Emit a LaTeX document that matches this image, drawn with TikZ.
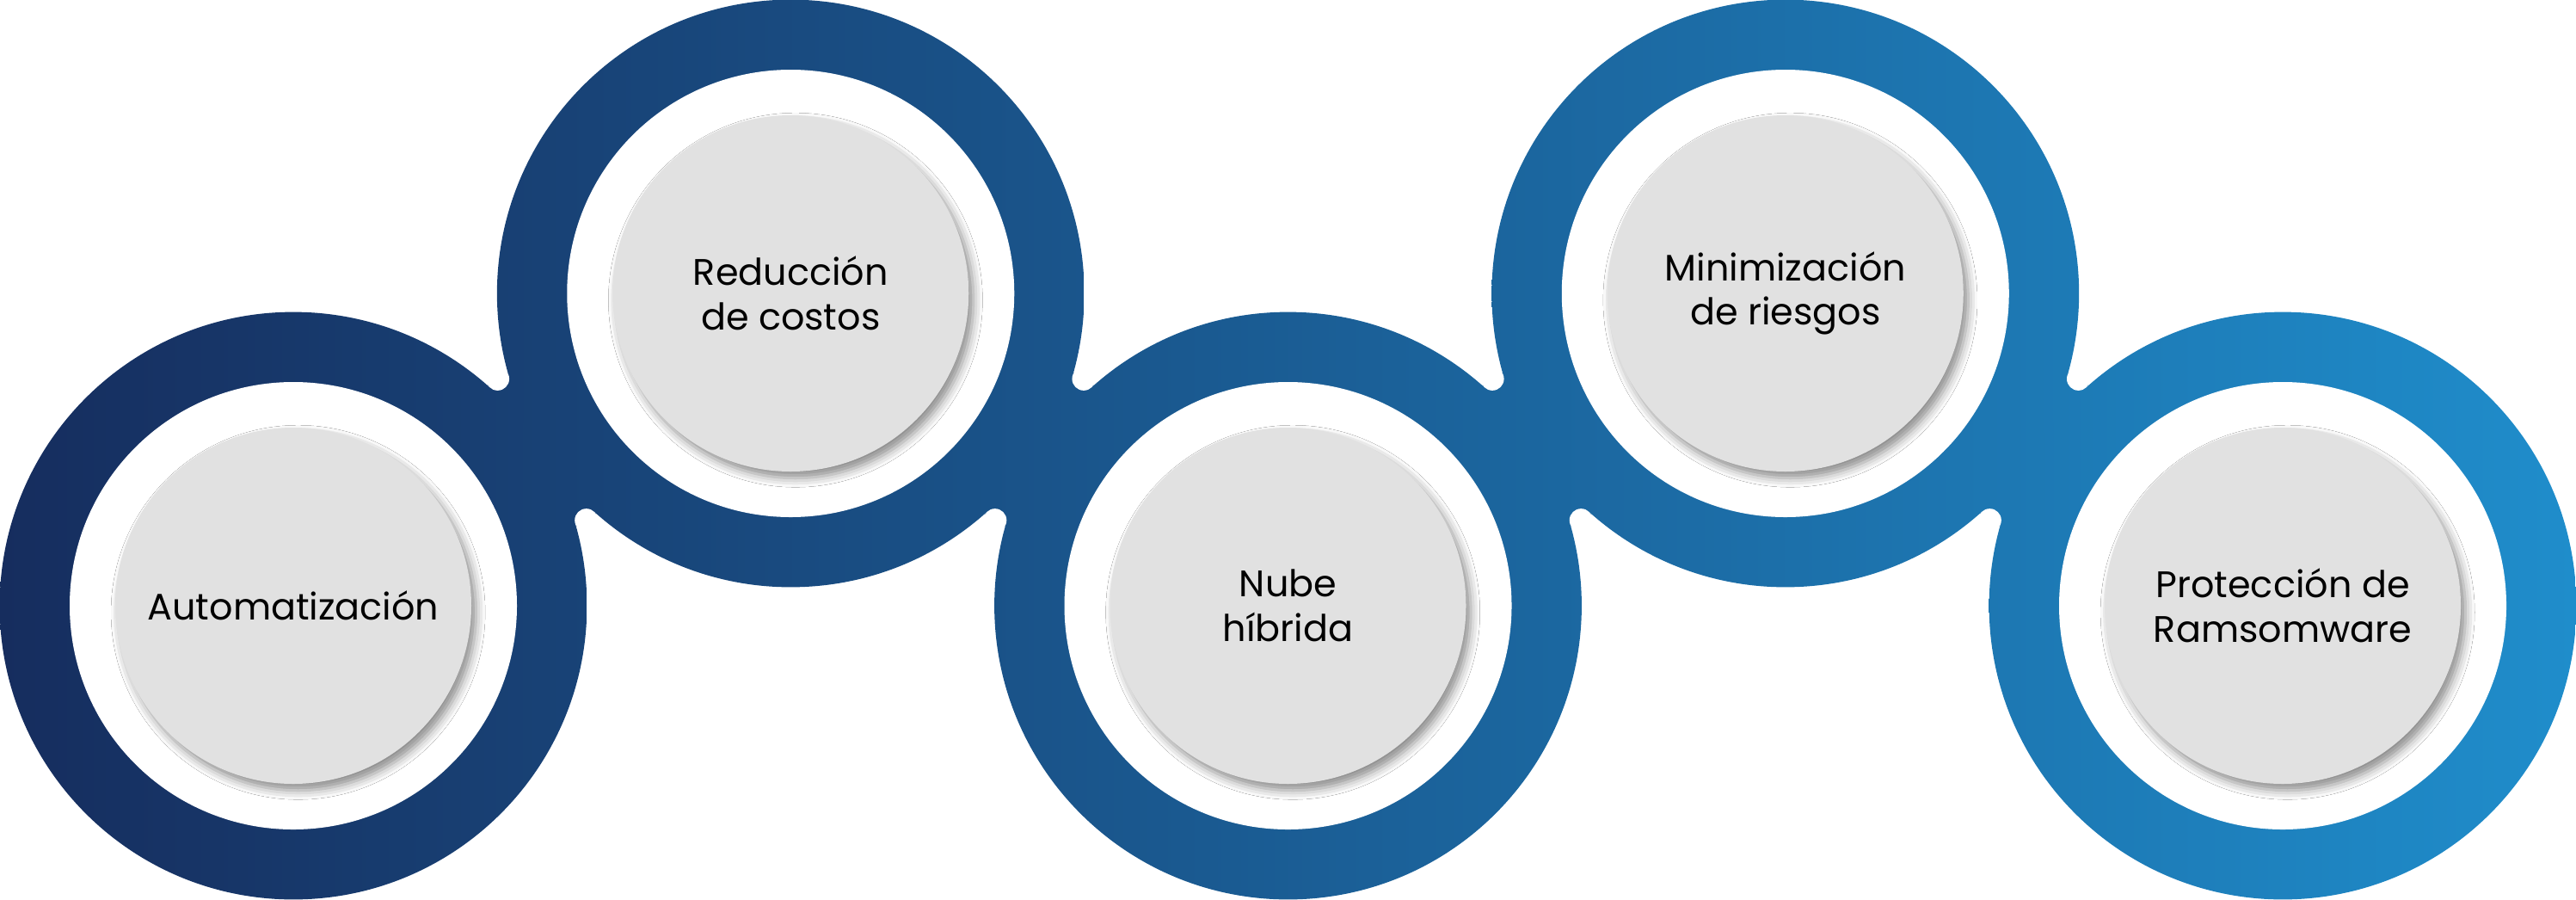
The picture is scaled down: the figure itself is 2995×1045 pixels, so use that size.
\documentclass[tikz,border=0pt]{standalone}
\usepackage{fontspec}
\setmainfont{Poppins}
\usetikzlibrary{shadows.blur}
\definecolor{cL}{HTML}{162D5E}
\definecolor{cR}{HTML}{1F8DCB}
\definecolor{grayc}{HTML}{E1E1E1}
\begin{document}
\begin{tikzpicture}[x=0.01cm,y=-0.01cm,
  ringfill/.style={path picture={\shade[left color=cL,right color=cR] (0,0) rectangle (2995,1045);}},
  inner/.style={fill=white},
  disk/.style={fill=grayc,blur shadow={shadow xshift=1.6pt,shadow yshift=-2.2pt,shadow blur radius=3pt,shadow opacity=45}},
  lbl/.style={font=\fontsize{12.2}{14.7}\selectfont,text=black,align=center,inner sep=0pt}]
\useasboundingbox (0,0) rectangle (2995,1045);
\def\R{341.4}
\coordinate (C1) at (341,704);
\coordinate (C2) at (919.25,341);
\coordinate (C3) at (1497.5,704);
\coordinate (C4) at (2075.75,341);
\coordinate (C5) at (2654,704);
% necks
\path[ringfill] (693.13,597.47) -- (670.27,611.83) -- (567.13,447.53) -- (589.99,433.17) -- cycle;
\path[ringfill] (1168.24,611.83) -- (1145.38,597.47) -- (1248.52,433.17) -- (1271.38,447.53) -- cycle;
\path[ringfill] (1849.63,597.47) -- (1826.77,611.83) -- (1723.63,447.53) -- (1746.49,433.17) -- cycle;
\path[ringfill] (2324.74,611.83) -- (2301.88,597.47) -- (2405.02,433.17) -- (2427.88,447.53) -- cycle;
% outer rings
\foreach \c in {C1,C2,C3,C4,C5} \path[ringfill] (\c) circle (\R);
% notch tips
\foreach \p in {(681.70,604.65),(578.56,440.35),(1156.81,604.65),(1259.95,440.35),(1838.20,604.65),(1735.06,440.35),(2313.31,604.65),(2416.45,440.35)}
  \fill[white] \p circle (13.5);
% inner white
\foreach \c in {C1,C2,C3,C4,C5} \path[inner] (\c) circle (260);
% gray disks
\foreach \c in {C1,C2,C3,C4,C5} \path[disk] (\c) circle (207);
% labels
\node[lbl] (t1) at (C1) {Automatización};
\node[lbl] (t2) at (C2) {Reducción\\de costos};
\node[lbl] (t3) at (C3) {Nube\\híbrida};
\node[lbl] (t4) at (C4) {Minimización\\de riesgos};
\node[lbl] (t5) at (C5) {Protección de\\Ramsomware};
\end{tikzpicture}
\end{document}
